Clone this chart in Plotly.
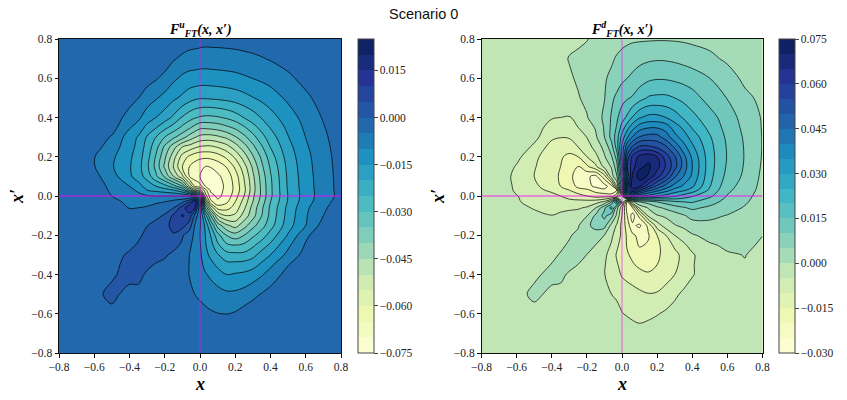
import plotly.graph_objects as go

xs = [-.8,-.7,-.6,-.5,-.4,-.35,-.3,-.25,-.2,-.15,-.1,-.06,-.03,0,.03,.06,.1,.15,.2,.25,.3,.35,.4,.5,.6,.7,.8]
ys_top_down = [.8,.7,.6,.5,.4,.35,.3,.25,.2,.15,.1,.05,.03,0,-.03,-.06,-.1,-.15,-.2,-.25,-.3,-.35,-.4,-.5,-.6,-.7,-.8]

# values, in thousandths, rows from top to bottom
z_up_milli = [
[-1,-1,-1,-1,-1,-1,-1,-1,-1,-1,-2,-2.4,-2.7,-3,-3.4,-3.3,-3.3,-3.2,-3,-2.7,-2.5,-2.2,-1.8,-1.2,-1,-1,-1],
[-1,-1,-1,-1,-1,-1,-1,-1,-2,-4.5,-6,-7,-7.2,-7.4,-7.4,-7.3,-7.2,-7,-6.8,-6.4,-5.9,-5.3,-4.6,-3,-1.7,-1,-1],
[-1,-1,-1,-1,-1,-1,-3,-4.5,-6.5,-9,-11,-11.8,-12,-12.3,-12.4,-12.3,-12.1,-11.8,-11.4,-10.7,-9.9,-9.1,-8.2,-6,-3.4,-1.7,-1],
[-1,-1,-1,-1,-3,-4.9,-7.5,-9.5,-11.5,-14,-16,-18,-19,-19.5,-19.5,-19.3,-19,-18.5,-17.7,-16.6,-15.2,-13.8,-12.3,-9,-6,-3,-1.2],
[-1,-1,-1,-2,-7,-9,-12.5,-15,-17.5,-21,-25.5,-28,-29.5,-30.5,-31,-31,-30.5,-29.3,-27.4,-24.8,-22.4,-19.6,-17,-12.3,-8.2,-4.6,-1.8],
[-1,-1,-1,-3,-9.5,-12,-16.5,-19.5,-23.5,-27,-31,-34,-36.5,-38.8,-38.9,-38.5,-37.8,-36,-33.9,-30.6,-26.8,-23.1,-19.6,-13.8,-9.1,-5.3,-2.2],
[-1,-1,-2,-5.5,-12.5,-15.5,-20.5,-25,-30,-34,-38,-42,-44.5,-46.5,-47,-47,-46,-44,-40.5,-36.3,-31.7,-26.8,-22.4,-15.2,-9.9,-5.9,-2.5],
[-1,-1,-3,-7.5,-13,-16.5,-22,-28,-36,-43,-50,-52,-54,-55.5,-56,-56,-54.6,-52,-47.5,-42.2,-36.3,-30.6,-24.8,-16.6,-10.7,-6.4,-2.8],
[-1,-1,-4.8,-9,-14,-17.5,-23,-30.5,-39,-48,-57,-61,-63,-64,-64,-63.7,-62.4,-59,-54,-47.5,-40.5,-33.9,-27.4,-17.7,-11.4,-6.8,-3],
[-1,-1,-4.8,-9.5,-14.5,-18,-24,-31.5,-41,-50.5,-60,-65,-67,-68,-70,-69.7,-68,-64.7,-59,-52,-44,-36,-29.3,-18.5,-11.8,-7,-3.2],
[-1,-1,-3.5,-8,-14,-17.5,-22,-29,-36,-45,-54,-65,-68,-70,-71,-73,-71,-68,-62.4,-54.6,-46,-37.8,-30.5,-19,-12.1,-7.2,-3.3],
[-1,-1,-2,-6.5,-10,-13,-17,-20,-23,-28,-35,-50,-60,-63,-70,-72.5,-72,-69,-63.5,-56,-47,-38.7,-31,-19.3,-12.3,-7.3,-3.4],
[-1,-1,-1.5,-6,-8.5,-11,-15,-16.5,-18,-20,-25,-37,-48,-52,-63,-71,-71.5,-69,-63.5,-56.4,-47,-38.9,-31,-19.5,-12.4,-7.4,-3.4],
[-1,-1,-1.5,-5,-7.5,-8.5,-9.5,-10,-10,-10,-10,-11,-14,-25,-57,-68,-71,-68.5,-62,-55,-46,-38.8,-31,-19.8,-12.5,-7.5,-3.5],
[-1,-1,-1,-3,-6.5,-6.5,-6.5,-5.8,-5,-3,-1,5,14,-5,-45,-63,-69,-66,-60,-53,-45,-37.5,-30,-19.5,-12,-7,-2.5],
[-1,-1,-1,-1.5,-5.2,-5,-4.5,-3,-2,-.2,7.5,14,10,-9,-35,-50,-62,-62,-58,-51,-43,-36,-29,-18.5,-11,-6,-1.5],
[-1,-1,-1,-1,-3.5,-3.2,-3,-1.2,.5,6,10.5,8,-1,-9,-22,-35,-50,-55,-54,-48,-42,-35,-28.5,-18,-10.5,-5,-1],
[-1,-1,-1,-1,-2.5,-1.5,-.1,1.5,3.5,6.5,7,2.5,-5,-9.5,-16,-25,-37,-44,-47,-42,-36.5,-32,-27,-17,-10,-3,-1],
[-1,-1,-1,-1,-1,-.5,.7,2,3,4.5,.5,-2.5,-6,-10,-15,-20,-28,-35,-38,-35,-31,-27.5,-23,-14.5,-6,-1.5,-1],
[-1,-1,-1,-1,-.6,.3,1.5,2.5,2.5,1.5,-.8,-4,-6.7,-9.5,-14.5,-18,-24,-29,-30,-29,-26,-22.5,-19,-11,-4.5,-1.2,-1],
[-1,-1,-1,-1,.4,1.5,2,1.5,.6,-1,-1.5,-5,-7,-9,-13.5,-16,-19.5,-23,-23.5,-23.5,-21.5,-18,-15,-8.5,-3,-1,-1],
[-1,-1,-1,-1,1.2,1.5,.8,-.3,-1,-1,-1,-5.2,-7,-8.3,-11.5,-13.5,-16,-18.5,-18.5,-18,-17,-14,-11,-5.2,-1.5,-1,-1],
[-1,-1,-1,-.8,2,1,-.6,-1,-1,-1,-1,-5.3,-7,-7.5,-9.5,-11,-13,-15,-14.5,-14,-12.5,-10.5,-8,-3,-1,-1,-1],
[-1,-1,-1.5,1.5,-2,-1,-1,-1,-1,-1,-1.5,-3,-5,-6,-6.5,-7,-8,-9,-9,-8,-6.3,-4.7,-3,-1,-1,-1,-1],
[-1,-1,-1,-1.5,-1,-1,-1,-1,-1,-1,-1,-1,-2,-3,-4,-4.5,-4.9,-5.1,-4.5,-3,-2,-1.5,-1,-1,-1,-1,-1],
[-1,-1,-1,-1,-1,-1,-1,-1,-1,-1,-1,-1,-1,-1,-1,-1,-1.5,-2,-1.5,-1,-1,-1,-1,-1,-1,-1,-1],
[-1,-1,-1,-1,-1,-1,-1,-1,-1,-1,-1,-1,-1,-1,-1,-1,-1,-1,-1,-1,-1,-1,-1,-1,-1,-1,-1],
]

z_down_milli = [
[-1,-1,-1,-1,-1,-1,-1,-.5,-.2,1,2,2.5,3,3.5,4,4.3,4.4,4.5,4.6,4.6,4.5,4.3,4,3.5,2.5,1.5,1],
[-1,-1,-1,-1,-1,-1,.2,.5,1.5,2,3.2,4.3,5.5,6.5,7.2,7.8,8.6,9.2,9.5,9.4,9,8.3,7.5,6,4.2,2.5,1.5],
[-1,-1,-1,-1,-1,-1,-.5,.5,1.5,3,4.5,6,7.5,9,10,11,12.5,14,14.6,14.5,14,13.4,12.5,10,7,4,2.8],
[-1,-1,-1,-1,-1.5,-2,-2,-.3,1,3,4.8,9,11,13,14.5,15.5,18,20.5,21,21,20,18.5,17,13,9.8,6,4],
[-1,-1,-1,-1,-4.5,-5,-5.3,-3,-.3,2.5,6,10.5,14,18,21,25.5,29.5,31.5,31.5,30,27.5,24.5,21.5,17,12.5,8,4.6],
[-1,-1,-1,-2,-7.5,-7.5,-7.5,-5,-2.5,.5,5.5,11,15.5,22,28,33,37.5,39.5,39.5,38,32.5,29,24.5,18.5,13.2,8.7,4.7],
[-1,-1,-1,-3.5,-9,-9.8,-9.5,-7.5,-4.9,-.8,5,11.5,17.5,27,34.5,40.5,45.5,47,47,42.5,37,32.5,28,20.5,14,9.3,4.8],
[-1,-1,-1.5,-6,-12,-13,-13,-10,-7.5,-3,1.5,8,17,31,44,51,56,56,54,51,44,37,31,21.5,14.5,9.6,4.8],
[-1,-1,-3.5,-9,-12.5,-14.5,-16,-15,-10,-6.5,-.5,4.5,12,31,52,61.5,66.5,68.5,65,57.5,51,42,34,22,14.7,9.7,4.7],
[-1,-1,-5.5,-9.5,-14,-15,-18,-20,-16,-11,-3.5,.5,8,28,55,63,69,71,67,59.5,52,43,35,22,14.3,9.5,4.4],
[-1,-2,-6.5,-10,-13.5,-15.5,-18.5,-22.5,-24,-26.5,-17,-2.5,4.5,24,50,66,72.5,69.5,62,55,46,40,34,21.5,13.4,9,4],
[-1,-2,-6,-9,-12.5,-15,-16.5,-21.5,-23.5,-26,-27,-22,-5,18,50,69,66,57,49,43,38,34,31,20.3,11.7,8,3.6],
[-1,-2,-5.8,-8.5,-11,-13,-15,-18,-19,-22,-24,-25,-20,13,50,62,55,47,42,37.5,33,31,28,19,11,7.5,3.4],
[-1,-1.5,-4.8,-7,-8.5,-10,-11.5,-13,-15,-17,-17,-17,-12,0,28,36,35,33,30,28,26,23,20.5,16,9.7,6.5,3],
[-1,-1,-4.5,-6.5,-8,-8.3,-8.7,-8.5,-8,-7,-4,5,22,0,-20,-1,5,7,10,12,14,15,15.5,12,8.2,5.6,2.7],
[-1,-1,-2,-5.8,-6.5,-6.3,-6,-5.5,-4.5,-.2,9,17,2,-8,-23,-20,-4,.5,4,6,8,9.5,11,9,6.8,4.6,2.2],
[-1,-1,-1.5,-2.5,-4.9,-4,-3,-3,-.3,6,11.5,7,-1,-10,-20,-27.5,-18,-3.8,-.3,.8,2.5,4.5,6.5,6,4.8,3.2,1.7],
[-1,-1,-1,-1,-2,-2,-1,-.5,4,6.5,7,-1.5,-5.5,-11.5,-17.5,-24,-26,-18.5,-7.5,-2.5,-.3,1,3,3.8,3.2,2.2,.8],
[-1,-1,-1,-1,-1,-1,-.4,1,3,3,-.1,-4,-7.5,-11,-16,-19,-21.5,-20.5,-15,-10,-5,-2.5,-.5,1.5,1.7,1.2,.05],
[-1,-1,-1,-1,-1,-.7,.5,2.5,3,-.1,-2.5,-5.5,-9,-12,-15.5,-18,-20.5,-19.5,-16,-13,-9,-6,-3,-.5,.7,.7,-.5],
[-1,-1,-1,-1,-.8,.3,1.8,2,-.1,-1,-4,-7,-10.5,-12.5,-14.5,-16,-18,-18,-15.8,-13.5,-11.5,-8.5,-5.7,-1,-.4,.1,-1],
[-1,-1,-1,-1,.1,1.2,1,-.05,-1,-1,-4.7,-6.8,-9.5,-11.5,-13,-14.5,-16,-16.5,-15,-13,-11,-8.5,-5.5,-1,-1,-.2,-1],
[-1,-1,-1,-.8,1.2,.8,-.5,-1,-1,-1,-4.9,-6.5,-8.5,-10.5,-11.5,-12.5,-13.5,-14.5,-14,-12,-10,-8,-5.5,-1,-1,-1,-1],
[-1,-1,-1.5,1,-1,-1,-1,-1,-1,-1,-1.5,-5,-6,-6.8,-7.5,-8,-9,-9.8,-9.5,-8,-6,-4,-2,-1,-1,-1,-1],
[-1,-1,-1,-1.5,-1,-1,-1,-1,-1,-1,-1,-1,-3,-4.8,-5.5,-6,-6.5,-6,-5.3,-4.2,-3,-1.7,-1,-1,-1,-1,-1],
[-1,-1,-1,-1,-1,-1,-1,-1,-1,-1,-1,-1,-1,-1.5,-2,-3,-3.4,-3,-2,-1.5,-1,-1,-1,-1,-1,-1,-1],
[-1,-1,-1,-1,-1,-1,-1,-1,-1,-1,-1,-1,-1,-1,-1,-1,-1,-1,-1,-1,-1,-1,-1,-1,-1,-1,-1],
]

ylgnbu = ["#ffffd9","#edf8b1","#c7e9b4","#7fcdbb","#41b6c4","#1d91c0","#225ea8","#253494","#081d58"]
W, H = 847, 400
SERIF = "Liberation Serif"

for grid in (z_up_milli, z_down_milli):
    assert len(grid) == len(ys_top_down)
    for row in grid:
        assert len(row) == len(xs), row

ys = ys_top_down[::-1]
z_up = [[v / 1000 for v in r] for r in z_up_milli[::-1]]
z_down = [[v / 1000 for v in r] for r in z_down_milli[::-1]]


def cmap(f):
    p = f * (len(ylgnbu) - 1)
    i = min(int(p), len(ylgnbu) - 2)
    t = p - i
    a = [int(ylgnbu[i][k:k + 2], 16) for k in (1, 3, 5)]
    b = [int(ylgnbu[i + 1][k:k + 2], 16) for k in (1, 3, 5)]
    return "rgb(%d,%d,%d)" % tuple(round(u + (v - u) * t) for u, v in zip(a, b))


def fill_scale(start, end, size):
    nc = round((end - start) / size) + 1
    out = [[0, ylgnbu[0]]]
    for i, c in enumerate(ylgnbu):
        f = i / (len(ylgnbu) - 1)
        out.append([(f * (end - start) + size / 2) / (size * nc), c])
    return out + [[1, ylgnbu[-1]]]


def step_scale(start, end, size):
    n = round((end - start) / size)
    out = []
    for i in range(n):
        c = cmap((i + .5) / n)
        out += [[i / n, c], [(i + 1) / n, c]]
    return out


fig = go.Figure()


def panel(z, xa, ya, start, end, size, cbx, dtick, tick0):
    cont = dict(start=start, end=end, size=size)
    fig.add_trace(go.Heatmap(
        x=xs, y=ys, z=z, xaxis=xa, yaxis=ya, zmin=start, zmax=end, hoverinfo="skip",
        colorscale=step_scale(start, end, size),
        colorbar=dict(x=cbx / W, xanchor="left", xref="paper", y=1 - 353 / H, yanchor="bottom", yref="paper",
                      len=314 / H, lenmode="fraction", thickness=16, thicknessmode="pixels",
                      outlinewidth=1, outlinecolor="#444", ticks="outside", ticklen=3.5, tickwidth=1,
                      tickformat=".3f", tick0=tick0, dtick=dtick, xpad=0, ypad=0,
                      tickfont=dict(family=SERIF, size=11.5, color="#222")),
    ))
    fig.add_trace(go.Contour(
        x=xs, y=ys, z=z, xaxis=xa, yaxis=ya, autocontour=False,
        contours=dict(cont, coloring="fill", showlines=False),
        line=dict(smoothing=1, width=0),
        colorscale=fill_scale(start, end, size), showscale=False, hoverinfo="skip",
    ))
    fig.add_trace(go.Contour(
        x=xs, y=ys, z=z, xaxis=xa, yaxis=ya, autocontour=False,
        contours=dict(cont, coloring="none", showlines=True),
        line=dict(smoothing=1, width=0.9, color="rgba(0,0,0,0.78)"),
        showscale=False, hoverinfo="skip",
    ))


panel(z_up, "x", "y", -.075, .025, .005, 358, .015, -.075)
panel(z_down, "x2", "y2", -.03, .075, .005, 779, .015, -.03)

axis = dict(range=[-.8, .8], tickvals=[-.8, -.6, -.4, -.2, 0, .2, .4, .6, .8], tickformat=".1f",
            ticks="outside", ticklen=3.5, tickwidth=1, tickcolor="#111", showline=True, mirror=True,
            linecolor="#111", linewidth=1, showgrid=False, zeroline=False, automargin=False,
            tickfont=dict(family=SERIF, size=11.5, color="#222"))
label_font = dict(family=SERIF, size=18, color="black")
title_font = dict(family=SERIF, size=14, color="black")


def note(text, px, py, font, angle=0):
    return dict(text=text, x=px / W, y=1 - py / H, xref="paper", yref="paper", showarrow=False,
                font=font, textangle=angle, xanchor="center", yanchor="middle")


fig.update_layout(
    width=W, height=H, margin=dict(l=0, r=0, t=0, b=0, autoexpand=False), paper_bgcolor="white", plot_bgcolor="white",
    showlegend=False,
    xaxis=dict(axis, domain=[59 / W, 341 / W], anchor="y"),
    yaxis=dict(axis, domain=[1 - 353 / H, 1 - 39 / H], anchor="x"),
    xaxis2=dict(axis, domain=[481.5 / W, 762.5 / W], anchor="y2"),
    yaxis2=dict(axis, domain=[1 - 353 / H, 1 - 39 / H], anchor="x2"),
    annotations=[
        note("Scenario 0", 423, 14, dict(family="Liberation Sans", size=14.5, color="#111")),
        note("<b><i>F<sup>u</sup><sub>FT</sub>(x, x′)</i></b>", 200, 29, title_font),
        note("<b><i>F<sup>d</sup><sub>FT</sub>(x, x′)</i></b>", 622, 29, title_font),
        note("<b><i>x</i></b>", 200, 384, label_font),
        note("<b><i>x</i></b>", 622, 384, label_font),
        note("<b><i>x′</i></b>", 17, 197, label_font, -90),
        note("<b><i>x′</i></b>", 438, 197, label_font, -90),
    ],
)

for xa, ya in (("x", "y"), ("x2", "y2")):
    fig.add_shape(type="line", xref=xa, yref=ya, x0=-.8, x1=.8, y0=0, y1=0,
                  line=dict(color="rgba(255,0,255,0.85)", width=1), layer="above")
    fig.add_shape(type="line", xref=xa, yref=ya, x0=0, x1=0, y0=-.8, y1=.8,
                  line=dict(color="rgba(255,0,255,0.6)", width=1), layer="above")

fig.write_html("out.html", post_script="document.body.style.margin='0';", config={"displayModeBar": False})
